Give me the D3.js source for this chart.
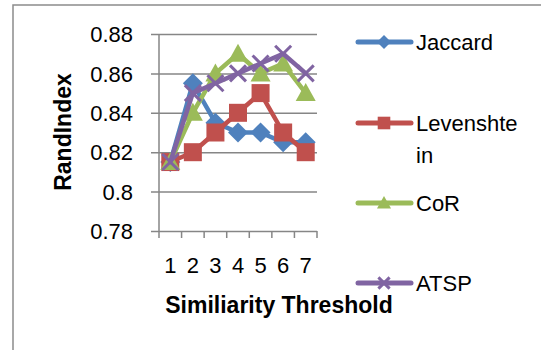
<!DOCTYPE html>
<html>
<head>
<meta charset="utf-8">
<script src="https://cdn.jsdelivr.net/npm/d3@7"></script>
<style>
  html, body { margin: 0; padding: 0; background: #fff; }
  svg { display: block; }
  text { font-family: "Liberation Sans", Arial, sans-serif; fill: #000; }
</style>
</head>
<body>
<svg id="chart" width="541" height="350"></svg>
<script>
// Rand index per similarity threshold, one array per method
const thresholds = ["1", "2", "3", "4", "5", "6", "7"];
const jaccard     = [0.815, 0.855, 0.835, 0.83, 0.83, 0.825, 0.825];
const levenshtein = [0.815, 0.82, 0.83, 0.84, 0.85, 0.83, 0.82];
const cor         = [0.815, 0.84, 0.86, 0.87, 0.86, 0.865, 0.85];
const atsp        = [0.815, 0.85, 0.855, 0.86, 0.865, 0.87, 0.86];
const seriesNames = ["Jaccard", "Levenshtein", "CoR", "ATSP"];
const yTicks = [0.78, 0.8, 0.82, 0.84, 0.86, 0.88];
const yTickLabels = ["0.78", "0.8", "0.82", "0.84", "0.86", "0.88"];

const series = [
  { name: seriesNames[0], values: jaccard,     color: "#4F81BD", marker: "diamond" },
  { name: seriesNames[1], values: levenshtein, color: "#C0504D", marker: "square" },
  { name: seriesNames[2], values: cor,         color: "#9BBB59", marker: "triangle" },
  { name: seriesNames[3], values: atsp,        color: "#8064A2", marker: "cross" }
];

const svg = d3.select("#chart");
const plot = { left: 159, right: 317, top: 34, bottom: 231 };
const axisColor = "#868686";

// chart frame
svg.append("rect")
  .attr("x", 13).attr("y", 5)
  .attr("width", 560).attr("height", 380)
  .attr("fill", "#fff")
  .attr("stroke", "#8c8c8c").attr("stroke-width", 1.5);

const x = d3.scaleBand().domain(thresholds).range([plot.left, plot.right]);
const y = d3.scaleLinear().domain([0.78, 0.88]).range([plot.bottom, plot.top]);
const cx = d => x(d) + x.bandwidth() / 2;

// horizontal gridlines with outside tick marks
const yAxis = d3.axisLeft(y)
  .tickValues(yTicks)
  .tickSize(-(plot.right - plot.left) - 8)
  .tickFormat((d, i) => yTickLabels[i]);
const gy = svg.append("g").attr("transform", `translate(${plot.right},0)`).call(yAxis);
gy.select(".domain").remove();
gy.selectAll(".tick line")
  .attr("x1", -(plot.right - plot.left) - 8).attr("x2", 0)
  .attr("stroke", axisColor).attr("stroke-width", 1.5);
gy.selectAll(".tick text")
  .attr("x", -(plot.right - 133))
  .attr("dy", "0.35em")
  .attr("text-anchor", "end")
  .style("font-family", "'Liberation Sans', Arial, sans-serif")
  .style("font-size", "22px")
  .attr("fill", "#000");

// vertical axis line
svg.append("line")
  .attr("x1", plot.left).attr("x2", plot.left)
  .attr("y1", plot.top).attr("y2", plot.bottom)
  .attr("stroke", axisColor).attr("stroke-width", 1.5);

// category axis: ticks between categories, labels centred
const xAxis = d3.axisBottom(x).tickSize(0).tickSizeOuter(0);
const gx = svg.append("g").attr("transform", `translate(0,${plot.bottom})`).call(xAxis);
gx.select(".domain").remove();
gx.selectAll(".tick text")
  .attr("y", 34)
  .attr("dy", "0.35em")
  .style("font-family", "'Liberation Sans', Arial, sans-serif")
  .style("font-size", "22px")
  .attr("fill", "#000");
const boundaries = thresholds.map(t => x(t)).concat([x(thresholds[thresholds.length - 1]) + x.bandwidth()]);
svg.append("g").selectAll("line").data(boundaries).join("line")
  .attr("x1", d => d).attr("x2", d => d)
  .attr("y1", plot.bottom).attr("y2", plot.bottom + 7)
  .attr("stroke", axisColor).attr("stroke-width", 1.5);

// marker shapes
function drawMarker(g, type, color, s) {
  if (type === "diamond") {
    g.append("path").attr("d", `M0,${-s}L${s},0L0,${s}L${-s},0Z`).attr("fill", color);
  } else if (type === "square") {
    const h = s * 0.9;
    g.append("rect").attr("x", -h).attr("y", -h).attr("width", 2 * h).attr("height", 2 * h).attr("fill", color);
  } else if (type === "triangle") {
    const h = s;
    g.append("path").attr("d", `M0,${-h}L${h},${h * 0.8}L${-h},${h * 0.8}Z`).attr("fill", color);
  } else if (type === "cross") {
    const h = s * 0.8;
    g.append("path").attr("d", `M${-h},${-h}L${h},${h}M${-h},${h}L${h},${-h}`)
      .attr("stroke", color).attr("stroke-width", 3).attr("fill", "none");
  }
}

const line = d3.line().x((d, i) => cx(thresholds[i])).y(d => y(d));

series.forEach(s => {
  const g = svg.append("g");
  g.append("path")
    .attr("d", line(s.values))
    .attr("fill", "none")
    .attr("stroke", s.color)
    .attr("stroke-width", 4.5)
    .attr("stroke-linejoin", "round")
    .attr("stroke-linecap", "round");
  s.values.forEach((v, i) => {
    const m = g.append("g").attr("transform", `translate(${cx(thresholds[i])},${y(v)})`);
    drawMarker(m, s.marker, s.color, 10);
  });
});

// axis titles
svg.append("text")
  .attr("x", 279).attr("y", 305)
  .attr("dy", "0.35em")
  .attr("text-anchor", "middle")
  .style("font-size", "23px").style("font-weight", "bold")
  .text("Similiarity Threshold");
svg.append("text")
  .attr("transform", "translate(63,132) rotate(-90)")
  .attr("dy", "0.35em")
  .attr("text-anchor", "middle")
  .style("font-size", "23px").style("font-weight", "bold")
  .text("RandIndex");

// legend
const legendRows = [
  { s: series[0], y: 42,  lines: ["Jaccard"] },
  { s: series[1], y: 123, lines: ["Levenshte", "in"] },
  { s: series[2], y: 203, lines: ["CoR"] },
  { s: series[3], y: 283, lines: ["ATSP"] }
];
legendRows.forEach(r => {
  const g = svg.append("g").attr("transform", `translate(0,${r.y})`);
  g.append("line")
    .attr("x1", 358).attr("x2", 411).attr("y1", 0).attr("y2", 0)
    .attr("stroke", r.s.color).attr("stroke-width", 5).attr("stroke-linecap", "round");
  const m = g.append("g").attr("transform", "translate(384,0)");
  drawMarker(m, r.s.marker, r.s.color, 7);
  const t = g.append("text").attr("x", 416).attr("y", 0).attr("dy", "0.35em")
    .style("font-size", "22px");
  r.lines.forEach((l, i) => {
    t.append("tspan").attr("x", 416).attr("dy", i === 0 ? "0.35em" : "32px").text(l);
  });
});
</script>
</body>
</html>
